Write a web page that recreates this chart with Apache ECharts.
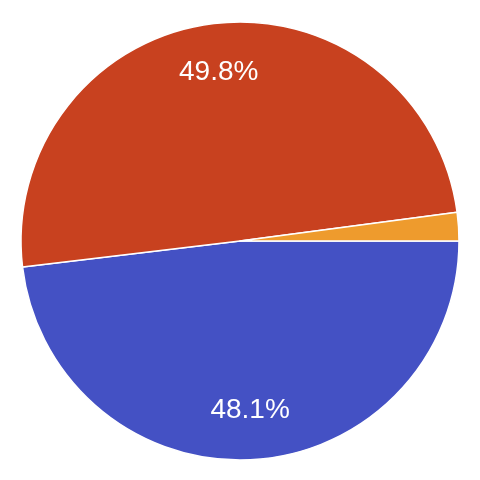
<!DOCTYPE html>
<html>
<head>
<meta charset="utf-8">
<script src="https://cdn.jsdelivr.net/npm/echarts@6/dist/echarts.min.js"></script>
<style>html,body{margin:0;padding:0;background:#fff;}#c{width:480px;height:480px;}</style>
</head>
<body>
<div id="c"></div>
<script>
var categories = ['A', 'B', 'C'];
var values = [48.1, 49.8, 2.1];
var colors = ['#4451c4', '#c8411f', '#ee9b2d'];
var showLabel = [true, true, false];

var chart = echarts.init(document.getElementById('c'), null, {renderer: 'canvas'});
var pieData = categories.map(function (c, i) {
  return {name: c, value: values[i], itemStyle: {color: colors[i]}};
});
var labelData = categories.map(function (c, i) {
  return {name: c, value: values[i], label: {show: showLabel[i]}};
});
chart.setOption({
  animation: false,
  series: [
    {
      type: 'pie',
      center: [240, 241],
      radius: [0, 219],
      startAngle: 0,
      clockwise: true,
      silent: true,
      label: {show: false},
      labelLine: {show: false},
      itemStyle: {borderColor: '#ffffff', borderWidth: 1.5},
      data: pieData
    },
    {
      type: 'pie',
      center: [240, 241],
      radius: [115, 219],
      startAngle: 0,
      clockwise: true,
      silent: true,
      itemStyle: {color: 'rgba(0,0,0,0)', borderWidth: 0},
      labelLine: {show: false},
      label: {
        show: true,
        position: 'inside',
        color: '#ffffff',
        fontFamily: 'Liberation Sans, Arial, sans-serif',
        fontSize: 28,
        formatter: function (p) { return p.value.toFixed(1) + '%'; }
      },
      data: labelData
    }
  ]
});
</script>
</body>
</html>
